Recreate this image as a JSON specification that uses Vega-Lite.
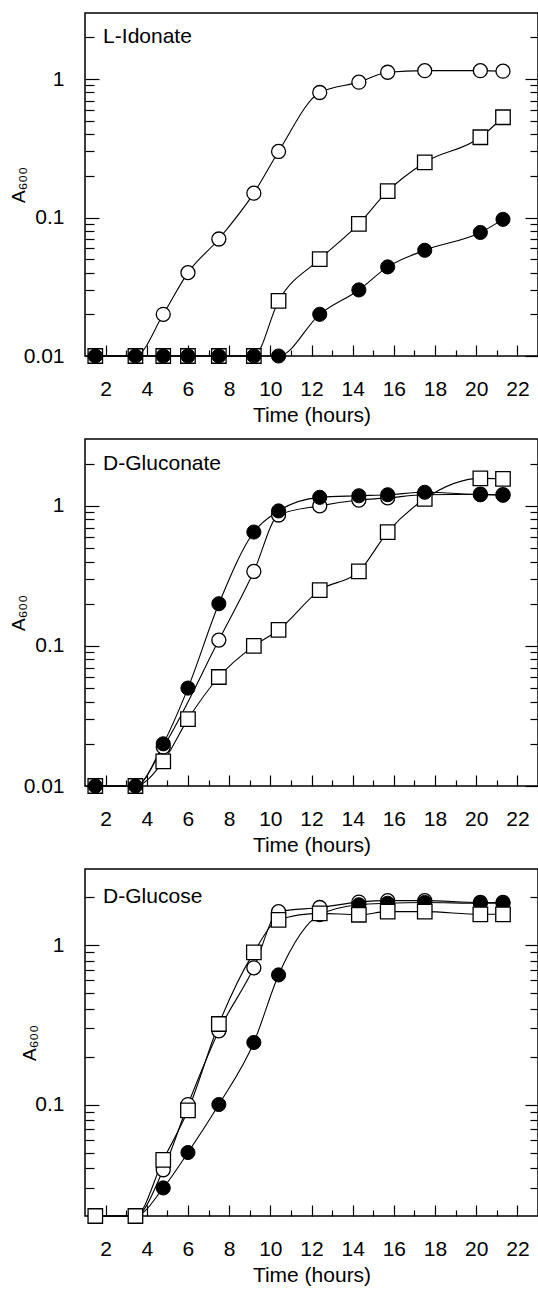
{
  "$schema": "https://vega.github.io/schema/vega-lite/v6.json",
  "padding": {"top": 12, "left": 8, "right": 0, "bottom": 0},
  "spacing": 12,
  "config": {
    "font": "Liberation Sans",
    "view": {"stroke": "black", "strokeWidth": 1.5},
    "axis": {
      "labelFont": "Liberation Sans", "titleFont": "Liberation Sans",
      "labelFontSize": 21, "titleFontSize": 21, "titleFontWeight": "normal",
      "labelColor": "black", "titleColor": "black", "tickColor": "black", "tickWidth": 1.2,
      "domain": false, "grid": false, "labelOverlap": false, "labelFlush": false, "labelBound": false
    }
  },
  "datasets": {
    "growth": [
      {"panel": "L-Idonate", "series": "S1", "t": 1.5, "A600": 0.01},
      {"panel": "L-Idonate", "series": "S1", "t": 3.45, "A600": 0.01},
      {"panel": "L-Idonate", "series": "S1", "t": 4.8, "A600": 0.02},
      {"panel": "L-Idonate", "series": "S1", "t": 6.0, "A600": 0.04},
      {"panel": "L-Idonate", "series": "S1", "t": 7.5, "A600": 0.07},
      {"panel": "L-Idonate", "series": "S1", "t": 9.2, "A600": 0.15},
      {"panel": "L-Idonate", "series": "S1", "t": 10.4, "A600": 0.30},
      {"panel": "L-Idonate", "series": "S1", "t": 12.4, "A600": 0.80},
      {"panel": "L-Idonate", "series": "S1", "t": 14.3, "A600": 0.95},
      {"panel": "L-Idonate", "series": "S1", "t": 15.7, "A600": 1.12},
      {"panel": "L-Idonate", "series": "S1", "t": 17.5, "A600": 1.15},
      {"panel": "L-Idonate", "series": "S1", "t": 20.2, "A600": 1.15},
      {"panel": "L-Idonate", "series": "S1", "t": 21.3, "A600": 1.14},
      {"panel": "L-Idonate", "series": "S2", "t": 1.5, "A600": 0.01},
      {"panel": "L-Idonate", "series": "S2", "t": 3.45, "A600": 0.01},
      {"panel": "L-Idonate", "series": "S2", "t": 4.8, "A600": 0.01},
      {"panel": "L-Idonate", "series": "S2", "t": 6.0, "A600": 0.01},
      {"panel": "L-Idonate", "series": "S2", "t": 7.5, "A600": 0.01},
      {"panel": "L-Idonate", "series": "S2", "t": 9.2, "A600": 0.01},
      {"panel": "L-Idonate", "series": "S2", "t": 10.4, "A600": 0.025},
      {"panel": "L-Idonate", "series": "S2", "t": 12.4, "A600": 0.05},
      {"panel": "L-Idonate", "series": "S2", "t": 14.3, "A600": 0.09},
      {"panel": "L-Idonate", "series": "S2", "t": 15.7, "A600": 0.155},
      {"panel": "L-Idonate", "series": "S2", "t": 17.5, "A600": 0.25},
      {"panel": "L-Idonate", "series": "S2", "t": 20.2, "A600": 0.38},
      {"panel": "L-Idonate", "series": "S2", "t": 21.3, "A600": 0.53},
      {"panel": "L-Idonate", "series": "S3", "t": 1.5, "A600": 0.01},
      {"panel": "L-Idonate", "series": "S3", "t": 3.45, "A600": 0.01},
      {"panel": "L-Idonate", "series": "S3", "t": 4.8, "A600": 0.01},
      {"panel": "L-Idonate", "series": "S3", "t": 6.0, "A600": 0.01},
      {"panel": "L-Idonate", "series": "S3", "t": 7.5, "A600": 0.01},
      {"panel": "L-Idonate", "series": "S3", "t": 9.2, "A600": 0.01},
      {"panel": "L-Idonate", "series": "S3", "t": 10.4, "A600": 0.01},
      {"panel": "L-Idonate", "series": "S3", "t": 12.4, "A600": 0.02},
      {"panel": "L-Idonate", "series": "S3", "t": 14.3, "A600": 0.03},
      {"panel": "L-Idonate", "series": "S3", "t": 15.7, "A600": 0.044},
      {"panel": "L-Idonate", "series": "S3", "t": 17.5, "A600": 0.058},
      {"panel": "L-Idonate", "series": "S3", "t": 20.2, "A600": 0.078},
      {"panel": "L-Idonate", "series": "S3", "t": 21.3, "A600": 0.097},

      {"panel": "D-Gluconate", "series": "S1", "t": 1.5, "A600": 0.01},
      {"panel": "D-Gluconate", "series": "S1", "t": 3.45, "A600": 0.01},
      {"panel": "D-Gluconate", "series": "S1", "t": 4.8, "A600": 0.019},
      {"panel": "D-Gluconate", "series": "S1", "t": 7.5, "A600": 0.11},
      {"panel": "D-Gluconate", "series": "S1", "t": 9.2, "A600": 0.34},
      {"panel": "D-Gluconate", "series": "S1", "t": 10.4, "A600": 0.86},
      {"panel": "D-Gluconate", "series": "S1", "t": 12.4, "A600": 1.0},
      {"panel": "D-Gluconate", "series": "S1", "t": 14.3, "A600": 1.1},
      {"panel": "D-Gluconate", "series": "S1", "t": 15.7, "A600": 1.14},
      {"panel": "D-Gluconate", "series": "S1", "t": 17.5, "A600": 1.2},
      {"panel": "D-Gluconate", "series": "S1", "t": 20.2, "A600": 1.21},
      {"panel": "D-Gluconate", "series": "S1", "t": 21.3, "A600": 1.2},
      {"panel": "D-Gluconate", "series": "S2", "t": 1.5, "A600": 0.01},
      {"panel": "D-Gluconate", "series": "S2", "t": 3.45, "A600": 0.01},
      {"panel": "D-Gluconate", "series": "S2", "t": 4.8, "A600": 0.015},
      {"panel": "D-Gluconate", "series": "S2", "t": 6.0, "A600": 0.03},
      {"panel": "D-Gluconate", "series": "S2", "t": 7.5, "A600": 0.06},
      {"panel": "D-Gluconate", "series": "S2", "t": 9.2, "A600": 0.1},
      {"panel": "D-Gluconate", "series": "S2", "t": 10.4, "A600": 0.13},
      {"panel": "D-Gluconate", "series": "S2", "t": 12.4, "A600": 0.25},
      {"panel": "D-Gluconate", "series": "S2", "t": 14.3, "A600": 0.34},
      {"panel": "D-Gluconate", "series": "S2", "t": 15.7, "A600": 0.65},
      {"panel": "D-Gluconate", "series": "S2", "t": 17.5, "A600": 1.12},
      {"panel": "D-Gluconate", "series": "S2", "t": 20.2, "A600": 1.57},
      {"panel": "D-Gluconate", "series": "S2", "t": 21.3, "A600": 1.56},
      {"panel": "D-Gluconate", "series": "S3", "t": 1.5, "A600": 0.01},
      {"panel": "D-Gluconate", "series": "S3", "t": 3.45, "A600": 0.01},
      {"panel": "D-Gluconate", "series": "S3", "t": 4.8, "A600": 0.02},
      {"panel": "D-Gluconate", "series": "S3", "t": 6.0, "A600": 0.05},
      {"panel": "D-Gluconate", "series": "S3", "t": 7.5, "A600": 0.2},
      {"panel": "D-Gluconate", "series": "S3", "t": 9.2, "A600": 0.65},
      {"panel": "D-Gluconate", "series": "S3", "t": 10.4, "A600": 0.92},
      {"panel": "D-Gluconate", "series": "S3", "t": 12.4, "A600": 1.15},
      {"panel": "D-Gluconate", "series": "S3", "t": 14.3, "A600": 1.18},
      {"panel": "D-Gluconate", "series": "S3", "t": 15.7, "A600": 1.2},
      {"panel": "D-Gluconate", "series": "S3", "t": 17.5, "A600": 1.25},
      {"panel": "D-Gluconate", "series": "S3", "t": 20.2, "A600": 1.2},
      {"panel": "D-Gluconate", "series": "S3", "t": 21.3, "A600": 1.19},

      {"panel": "D-Glucose", "series": "S1", "t": 1.5, "A600": 0.02},
      {"panel": "D-Glucose", "series": "S1", "t": 3.45, "A600": 0.02},
      {"panel": "D-Glucose", "series": "S1", "t": 4.8, "A600": 0.039},
      {"panel": "D-Glucose", "series": "S1", "t": 6.0, "A600": 0.1},
      {"panel": "D-Glucose", "series": "S1", "t": 7.5, "A600": 0.29},
      {"panel": "D-Glucose", "series": "S1", "t": 9.2, "A600": 0.72},
      {"panel": "D-Glucose", "series": "S1", "t": 10.4, "A600": 1.62},
      {"panel": "D-Glucose", "series": "S1", "t": 12.4, "A600": 1.72},
      {"panel": "D-Glucose", "series": "S1", "t": 14.3, "A600": 1.86},
      {"panel": "D-Glucose", "series": "S1", "t": 15.7, "A600": 1.9},
      {"panel": "D-Glucose", "series": "S1", "t": 17.5, "A600": 1.9},
      {"panel": "D-Glucose", "series": "S1", "t": 20.2, "A600": 1.85},
      {"panel": "D-Glucose", "series": "S1", "t": 21.3, "A600": 1.85},
      {"panel": "D-Glucose", "series": "S2", "t": 1.5, "A600": 0.02},
      {"panel": "D-Glucose", "series": "S2", "t": 3.45, "A600": 0.02},
      {"panel": "D-Glucose", "series": "S2", "t": 4.8, "A600": 0.045},
      {"panel": "D-Glucose", "series": "S2", "t": 6.0, "A600": 0.092},
      {"panel": "D-Glucose", "series": "S2", "t": 7.5, "A600": 0.32},
      {"panel": "D-Glucose", "series": "S2", "t": 9.2, "A600": 0.9},
      {"panel": "D-Glucose", "series": "S2", "t": 10.4, "A600": 1.44},
      {"panel": "D-Glucose", "series": "S2", "t": 12.4, "A600": 1.58},
      {"panel": "D-Glucose", "series": "S2", "t": 14.3, "A600": 1.55},
      {"panel": "D-Glucose", "series": "S2", "t": 15.7, "A600": 1.62},
      {"panel": "D-Glucose", "series": "S2", "t": 17.5, "A600": 1.62},
      {"panel": "D-Glucose", "series": "S2", "t": 20.2, "A600": 1.56},
      {"panel": "D-Glucose", "series": "S2", "t": 21.3, "A600": 1.56},
      {"panel": "D-Glucose", "series": "S3", "t": 1.5, "A600": 0.02},
      {"panel": "D-Glucose", "series": "S3", "t": 3.45, "A600": 0.02},
      {"panel": "D-Glucose", "series": "S3", "t": 4.8, "A600": 0.03},
      {"panel": "D-Glucose", "series": "S3", "t": 6.0, "A600": 0.05},
      {"panel": "D-Glucose", "series": "S3", "t": 7.5, "A600": 0.1},
      {"panel": "D-Glucose", "series": "S3", "t": 9.2, "A600": 0.245},
      {"panel": "D-Glucose", "series": "S3", "t": 10.4, "A600": 0.65},
      {"panel": "D-Glucose", "series": "S3", "t": 12.4, "A600": 1.55},
      {"panel": "D-Glucose", "series": "S3", "t": 14.3, "A600": 1.79},
      {"panel": "D-Glucose", "series": "S3", "t": 15.7, "A600": 1.83},
      {"panel": "D-Glucose", "series": "S3", "t": 17.5, "A600": 1.85},
      {"panel": "D-Glucose", "series": "S3", "t": 20.2, "A600": 1.83},
      {"panel": "D-Glucose", "series": "S3", "t": 21.3, "A600": 1.83}
    ],
    "labels": [
      {"panel": "L-Idonate", "t": 1.88, "A600": 2},
      {"panel": "D-Gluconate", "t": 1.88, "A600": 2},
      {"panel": "D-Glucose", "t": 1.88, "A600": 2}
    ]
  },
  "vconcat": [
    {
      "width": 453, "height": 343,
      "resolve": {"axis": {"x": "independent", "y": "independent"}},
      "layer": [
        {
          "data": {"name": "growth"},
          "transform": [{"filter": "datum.panel == 'L-Idonate'"}],
          "mark": {"type": "line", "interpolate": "monotone", "color": "black", "strokeWidth": 1.1},
          "encoding": {
            "x": {"field": "t", "type": "quantitative", "title": "Time (hours)", "scale": {"domain": [1, 23], "nice": false, "zero": false},
              "axis": {"orient": "bottom", "values": [2,3,4,5,6,7,8,9,10,11,12,13,14,15,16,17,18,19,20,21,22], "labelExpr": "datum.value % 2 == 0 ? datum.label : ''", "tickSize": {"condition": {"test": "datum.value % 2 == 0", "value": -11}, "value": -6}, "labelPadding": 33, "titlePadding": 0}},
            "y": {"field": "A600", "type": "quantitative", "title": "A₆₀₀", "scale": {"type": "log", "domain": [0.01, 3], "nice": false},
              "axis": {"values": [0.01,0.02,0.03,0.04,0.05,0.06,0.07,0.08,0.09,0.1,0.2,0.3,0.4,0.5,0.6,0.7,0.8,0.9,1,2], "format": "~g", "labelExpr": "datum.value == 0.01 || datum.value == 0.1 || datum.value == 1 ? datum.label : ''", "tickSize": {"condition": {"test": "datum.value == 0.01 || datum.value == 0.1 || datum.value == 1", "value": -14}, "value": -9}, "labelPadding": 35, "titlePadding": -5, "titleFontSize": 19}},
            "detail": {"field": "series"}
          }
        },
        {
          "data": {"name": "growth"},
          "transform": [{"filter": "datum.panel == 'L-Idonate' && datum.series == 'S1'"}],
          "mark": {"type": "point", "shape": "circle", "filled": true, "fill": "white", "stroke": "black", "strokeWidth": 1.3, "size": 196, "opacity": 1},
          "encoding": {
            "x": {"field": "t", "type": "quantitative", "scale": {"domain": [1, 23], "nice": false, "zero": false}, "axis": null},
            "y": {"field": "A600", "type": "quantitative", "scale": {"type": "log", "domain": [0.01, 3], "nice": false},
              "axis": {"orient": "right", "values": [0.01,0.02,0.03,0.04,0.05,0.06,0.07,0.08,0.09,0.1,0.2,0.3,0.4,0.5,0.6,0.7,0.8,0.9,1,2], "labels": false, "title": null, "tickSize": {"condition": {"test": "datum.value == 0.01 || datum.value == 0.1 || datum.value == 1", "value": -13}, "value": -8}}}
          }
        },
        {
          "data": {"name": "growth"},
          "transform": [{"filter": "datum.panel == 'L-Idonate' && datum.series == 'S2'"}],
          "mark": {"type": "point", "shape": "square", "filled": true, "fill": "white", "stroke": "black", "strokeWidth": 1.3, "size": 210, "opacity": 1},
          "encoding": {
            "x": {"field": "t", "type": "quantitative", "scale": {"domain": [1, 23], "nice": false, "zero": false}, "axis": null},
            "y": {"field": "A600", "type": "quantitative", "scale": {"type": "log", "domain": [0.01, 3], "nice": false}, "axis": null}
          }
        },
        {
          "data": {"name": "growth"},
          "transform": [{"filter": "datum.panel == 'L-Idonate' && datum.series == 'S3'"}],
          "mark": {"type": "point", "shape": "circle", "filled": true, "fill": "black", "stroke": "black", "strokeWidth": 1, "size": 200, "opacity": 1},
          "encoding": {
            "x": {"field": "t", "type": "quantitative", "scale": {"domain": [1, 23], "nice": false, "zero": false}, "axis": null},
            "y": {"field": "A600", "type": "quantitative", "scale": {"type": "log", "domain": [0.01, 3], "nice": false}, "axis": null}
          }
        },
        {
          "data": {"name": "labels"},
          "transform": [{"filter": "datum.panel == 'L-Idonate'"}],
          "mark": {"type": "text", "align": "left", "baseline": "middle", "fontSize": 21, "font": "Liberation Sans", "color": "black"},
          "encoding": {
            "x": {"field": "t", "type": "quantitative", "scale": {"domain": [1, 23], "nice": false, "zero": false}, "axis": null},
            "y": {"field": "A600", "type": "quantitative", "scale": {"type": "log", "domain": [0.01, 3], "nice": false}, "axis": null},
            "text": {"field": "panel"}
          }
        }
      ]
    },
    {
      "width": 453, "height": 347,
      "resolve": {"axis": {"x": "independent", "y": "independent"}},
      "layer": [
        {
          "data": {"name": "growth"},
          "transform": [{"filter": "datum.panel == 'D-Gluconate'"}],
          "mark": {"type": "line", "interpolate": "monotone", "color": "black", "strokeWidth": 1.1},
          "encoding": {
            "x": {"field": "t", "type": "quantitative", "title": "Time (hours)", "scale": {"domain": [1, 23], "nice": false, "zero": false},
              "axis": {"orient": "bottom", "values": [2,3,4,5,6,7,8,9,10,11,12,13,14,15,16,17,18,19,20,21,22], "labelExpr": "datum.value % 2 == 0 ? datum.label : ''", "tickSize": {"condition": {"test": "datum.value % 2 == 0", "value": -11}, "value": -6}, "labelPadding": 33, "titlePadding": 0}},
            "y": {"field": "A600", "type": "quantitative", "title": "A₆₀₀", "scale": {"type": "log", "domain": [0.01, 3], "nice": false},
              "axis": {"values": [0.01,0.02,0.03,0.04,0.05,0.06,0.07,0.08,0.09,0.1,0.2,0.3,0.4,0.5,0.6,0.7,0.8,0.9,1,2], "format": "~g", "labelExpr": "datum.value == 0.01 || datum.value == 0.1 || datum.value == 1 ? datum.label : ''", "tickSize": {"condition": {"test": "datum.value == 0.01 || datum.value == 0.1 || datum.value == 1", "value": -14}, "value": -9}, "labelPadding": 35, "titlePadding": -5, "titleFontSize": 19}},
            "detail": {"field": "series"}
          }
        },
        {
          "data": {"name": "growth"},
          "transform": [{"filter": "datum.panel == 'D-Gluconate' && datum.series == 'S1'"}],
          "mark": {"type": "point", "shape": "circle", "filled": true, "fill": "white", "stroke": "black", "strokeWidth": 1.3, "size": 196, "opacity": 1},
          "encoding": {
            "x": {"field": "t", "type": "quantitative", "scale": {"domain": [1, 23], "nice": false, "zero": false}, "axis": null},
            "y": {"field": "A600", "type": "quantitative", "scale": {"type": "log", "domain": [0.01, 3], "nice": false},
              "axis": {"orient": "right", "values": [0.01,0.02,0.03,0.04,0.05,0.06,0.07,0.08,0.09,0.1,0.2,0.3,0.4,0.5,0.6,0.7,0.8,0.9,1,2], "labels": false, "title": null, "tickSize": {"condition": {"test": "datum.value == 0.01 || datum.value == 0.1 || datum.value == 1", "value": -13}, "value": -8}}}
          }
        },
        {
          "data": {"name": "growth"},
          "transform": [{"filter": "datum.panel == 'D-Gluconate' && datum.series == 'S2'"}],
          "mark": {"type": "point", "shape": "square", "filled": true, "fill": "white", "stroke": "black", "strokeWidth": 1.3, "size": 210, "opacity": 1},
          "encoding": {
            "x": {"field": "t", "type": "quantitative", "scale": {"domain": [1, 23], "nice": false, "zero": false}, "axis": null},
            "y": {"field": "A600", "type": "quantitative", "scale": {"type": "log", "domain": [0.01, 3], "nice": false}, "axis": null}
          }
        },
        {
          "data": {"name": "growth"},
          "transform": [{"filter": "datum.panel == 'D-Gluconate' && datum.series == 'S3'"}],
          "mark": {"type": "point", "shape": "circle", "filled": true, "fill": "black", "stroke": "black", "strokeWidth": 1, "size": 200, "opacity": 1},
          "encoding": {
            "x": {"field": "t", "type": "quantitative", "scale": {"domain": [1, 23], "nice": false, "zero": false}, "axis": null},
            "y": {"field": "A600", "type": "quantitative", "scale": {"type": "log", "domain": [0.01, 3], "nice": false}, "axis": null}
          }
        },
        {
          "data": {"name": "labels"},
          "transform": [{"filter": "datum.panel == 'D-Gluconate'"}],
          "mark": {"type": "text", "align": "left", "baseline": "middle", "fontSize": 21, "font": "Liberation Sans", "color": "black"},
          "encoding": {
            "x": {"field": "t", "type": "quantitative", "scale": {"domain": [1, 23], "nice": false, "zero": false}, "axis": null},
            "y": {"field": "A600", "type": "quantitative", "scale": {"type": "log", "domain": [0.01, 3], "nice": false}, "axis": null},
            "text": {"field": "panel"}
          }
        }
      ]
    },
    {
      "width": 453, "height": 347,
      "resolve": {"axis": {"x": "independent", "y": "independent"}},
      "layer": [
        {
          "data": {"name": "growth"},
          "transform": [{"filter": "datum.panel == 'D-Glucose'"}],
          "mark": {"type": "line", "interpolate": "monotone", "color": "black", "strokeWidth": 1.1},
          "encoding": {
            "x": {"field": "t", "type": "quantitative", "title": "Time (hours)", "scale": {"domain": [1, 23], "nice": false, "zero": false},
              "axis": {"orient": "bottom", "values": [2,3,4,5,6,7,8,9,10,11,12,13,14,15,16,17,18,19,20,21,22], "labelExpr": "datum.value % 2 == 0 ? datum.label : ''", "tickSize": {"condition": {"test": "datum.value % 2 == 0", "value": -11}, "value": -6}, "labelPadding": 33, "titlePadding": 0}},
            "y": {"field": "A600", "type": "quantitative", "title": "A₆₀₀", "scale": {"type": "log", "domain": [0.02, 3], "nice": false},
              "axis": {"values": [0.03,0.04,0.05,0.06,0.07,0.08,0.09,0.1,0.2,0.3,0.4,0.5,0.6,0.7,0.8,0.9,1,2], "format": "~g", "labelExpr": "datum.value == 0.1 || datum.value == 1 ? datum.label : ''", "tickSize": {"condition": {"test": "datum.value == 0.1 || datum.value == 1", "value": -14}, "value": -9}, "labelPadding": 35, "titlePadding": -5, "titleFontSize": 19}},
            "detail": {"field": "series"}
          }
        },
        {
          "data": {"name": "growth"},
          "transform": [{"filter": "datum.panel == 'D-Glucose' && datum.series == 'S1'"}],
          "mark": {"type": "point", "shape": "circle", "filled": true, "fill": "white", "stroke": "black", "strokeWidth": 1.3, "size": 196, "opacity": 1},
          "encoding": {
            "x": {"field": "t", "type": "quantitative", "scale": {"domain": [1, 23], "nice": false, "zero": false}, "axis": null},
            "y": {"field": "A600", "type": "quantitative", "scale": {"type": "log", "domain": [0.02, 3], "nice": false},
              "axis": {"orient": "right", "values": [0.03,0.04,0.05,0.06,0.07,0.08,0.09,0.1,0.2,0.3,0.4,0.5,0.6,0.7,0.8,0.9,1,2], "labels": false, "title": null, "tickSize": {"condition": {"test": "datum.value == 0.1 || datum.value == 1", "value": -13}, "value": -8}}}
          }
        },
        {
          "data": {"name": "growth"},
          "transform": [{"filter": "datum.panel == 'D-Glucose' && datum.series == 'S3'"}],
          "mark": {"type": "point", "shape": "circle", "filled": true, "fill": "black", "stroke": "black", "strokeWidth": 1, "size": 200, "opacity": 1},
          "encoding": {
            "x": {"field": "t", "type": "quantitative", "scale": {"domain": [1, 23], "nice": false, "zero": false}, "axis": null},
            "y": {"field": "A600", "type": "quantitative", "scale": {"type": "log", "domain": [0.02, 3], "nice": false}, "axis": null}
          }
        },
        {
          "data": {"name": "growth"},
          "transform": [{"filter": "datum.panel == 'D-Glucose' && datum.series == 'S2'"}],
          "mark": {"type": "point", "shape": "square", "filled": true, "fill": "white", "stroke": "black", "strokeWidth": 1.3, "size": 210, "opacity": 1},
          "encoding": {
            "x": {"field": "t", "type": "quantitative", "scale": {"domain": [1, 23], "nice": false, "zero": false}, "axis": null},
            "y": {"field": "A600", "type": "quantitative", "scale": {"type": "log", "domain": [0.02, 3], "nice": false}, "axis": null}
          }
        },
        {
          "data": {"name": "labels"},
          "transform": [{"filter": "datum.panel == 'D-Glucose'"}],
          "mark": {"type": "text", "align": "left", "baseline": "middle", "fontSize": 21, "font": "Liberation Sans", "color": "black"},
          "encoding": {
            "x": {"field": "t", "type": "quantitative", "scale": {"domain": [1, 23], "nice": false, "zero": false}, "axis": null},
            "y": {"field": "A600", "type": "quantitative", "scale": {"type": "log", "domain": [0.02, 3], "nice": false}, "axis": null},
            "text": {"field": "panel"}
          }
        }
      ]
    }
  ]
}
